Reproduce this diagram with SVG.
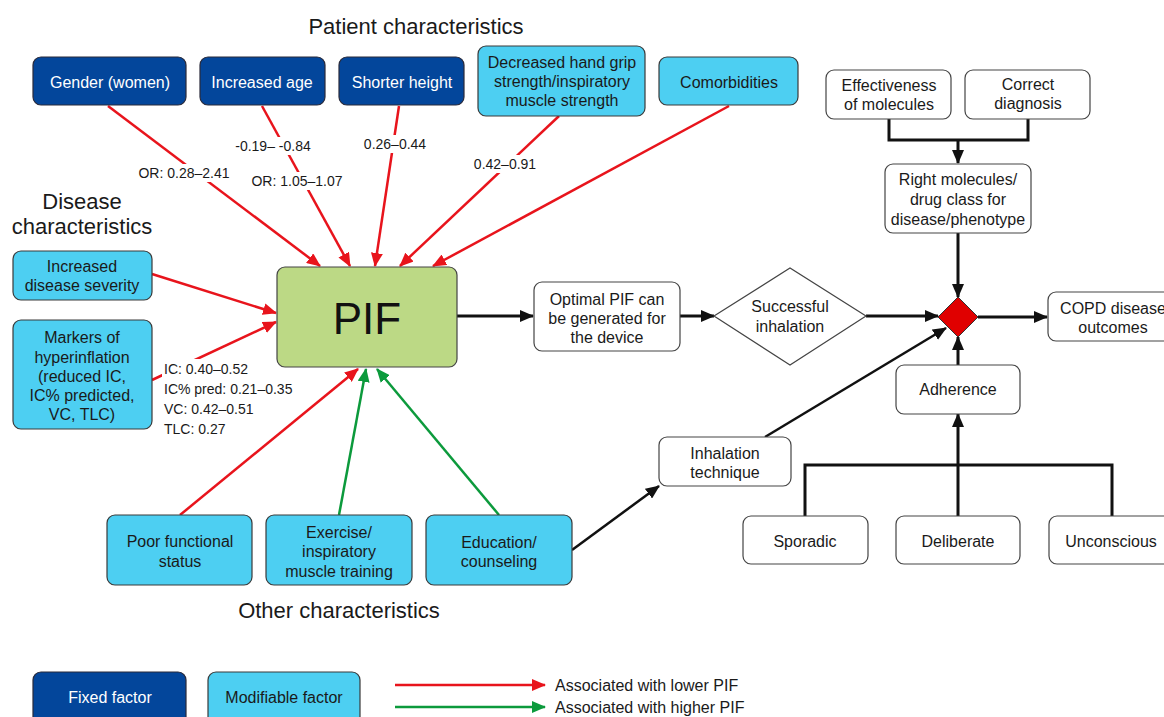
<svg xmlns="http://www.w3.org/2000/svg" width="1164" height="717" viewBox="0 0 1164 717">
<style>
text{font-family:"Liberation Sans",Arial,sans-serif;}
.t{font-size:16px;fill:#1a1a1a;text-anchor:middle;dominant-baseline:central;}
.tw{font-size:16px;fill:#fff;text-anchor:middle;dominant-baseline:central;}
.h{font-size:22px;fill:#1a1a1a;text-anchor:middle;dominant-baseline:central;}
.lab{font-size:14px;fill:#1a1a1a;dominant-baseline:central;}
.labc{font-size:14px;fill:#1a1a1a;text-anchor:middle;dominant-baseline:central;}
.fixed{fill:#03469b;stroke:#2a2a3a;stroke-width:1.2;}
.mod{fill:#4dcff2;stroke:#3a3a3a;stroke-width:1.2;}
.wb{fill:#fff;stroke:#444;stroke-width:1.2;}
.red{stroke:#e8141c;stroke-width:2.5;fill:none;marker-end:url(#ar);}
.grn{stroke:#0c9a3c;stroke-width:2.5;fill:none;marker-end:url(#ag);}
.blk{stroke:#111;stroke-width:3;fill:none;marker-end:url(#ab);}
.blkn{stroke:#111;stroke-width:3;fill:none;}
.leg{font-size:16px;fill:#1a1a1a;dominant-baseline:central;}
</style>
<defs>
<marker id="ar" markerUnits="userSpaceOnUse" markerWidth="14" markerHeight="12" refX="13" refY="6" orient="auto"><path d="M0,0 L14,6 L0,12 z" fill="#e8141c"/></marker>
<marker id="ag" markerUnits="userSpaceOnUse" markerWidth="14" markerHeight="12" refX="13" refY="6" orient="auto"><path d="M0,0 L14,6 L0,12 z" fill="#0c9a3c"/></marker>
<marker id="ab" markerUnits="userSpaceOnUse" markerWidth="14" markerHeight="12" refX="13" refY="6" orient="auto"><path d="M0,0 L14,6 L0,12 z" fill="#111"/></marker>
</defs>
<rect width="1164" height="717" fill="#fff"/>

<g id="headings">
<text class="h" x="416" y="26">Patient characteristics</text>
<text class="h" x="82" y="201">Disease</text>
<text class="h" x="82" y="226">characteristics</text>
<text class="h" x="339" y="610">Other characteristics</text>
</g>

<g id="connectors">
<line class="red" x1="108" y1="106" x2="320" y2="266"/>
<line class="red" x1="262" y1="106" x2="350" y2="266"/>
<line class="red" x1="399" y1="106" x2="375" y2="266"/>
<line class="red" x1="559" y1="116" x2="400" y2="266"/>
<line class="red" x1="729" y1="106" x2="433" y2="266"/>
<line class="red" x1="152" y1="274" x2="276" y2="313"/>
<line class="red" x1="152" y1="380" x2="276" y2="322"/>
<line class="red" x1="180" y1="515" x2="358" y2="369"/>
<line class="grn" x1="339" y1="515" x2="366" y2="369"/>
<line class="grn" x1="499" y1="515" x2="377" y2="369"/>
<line class="blk" x1="457" y1="316" x2="533" y2="316"/>
<line class="blk" x1="680" y1="316" x2="714" y2="316"/>
<line class="blk" x1="866" y1="316" x2="938" y2="316"/>
<line class="blk" x1="978" y1="317" x2="1047" y2="317"/>
<polyline class="blkn" points="889,119 889,140 1028,140 1028,119"/>
<line class="blk" x1="958" y1="140" x2="958" y2="163"/>
<line class="blk" x1="958" y1="233" x2="958" y2="297"/>
<line class="blk" x1="958" y1="365" x2="958" y2="337"/>
<polyline class="blkn" points="805,516 805,465 1112,465 1112,516"/>
<line class="blk" x1="958" y1="516" x2="958" y2="414"/>
<line class="blk" x1="765" y1="437" x2="946" y2="328" style="stroke-width:2.5"/>
<line class="blk" x1="572" y1="550" x2="659" y2="486" style="stroke-width:2.5"/>
</g>

<g id="edge-labels">
<rect x="134" y="164" width="100" height="18" fill="#fff"/>
<text class="labc" x="184" y="173">OR: 0.28–2.41</text>
<rect x="230" y="137" width="86" height="18" fill="#fff"/>
<text class="labc" x="273" y="146">-0.19– -0.84</text>
<rect x="248" y="172" width="98" height="18" fill="#fff"/>
<text class="labc" x="297" y="181">OR: 1.05–1.07</text>
<rect x="362" y="135" width="66" height="18" fill="#fff"/>
<text class="labc" x="395" y="144">0.26–0.44</text>
<rect x="472" y="155" width="66" height="18" fill="#fff"/>
<text class="labc" x="505" y="164">0.42–0.91</text>
<rect x="162" y="359" width="94" height="19" fill="#fff"/>
<text class="lab" x="164" y="369">IC: 0.40–0.52</text>
<text class="lab" x="164" y="389">IC% pred: 0.21–0.35</text>
<text class="lab" x="164" y="409">VC: 0.42–0.51</text>
<text class="lab" x="164" y="429">TLC: 0.27</text>
</g>

<g id="gender"><rect class="fixed" x="33" y="57" width="153" height="48" rx="8"/><text class="tw" x="110" y="82">Gender (women)</text></g>
<g id="age"><rect class="fixed" x="200" y="57" width="125" height="48" rx="8"/><text class="tw" x="262" y="82">Increased age</text></g>
<g id="height"><rect class="fixed" x="339" y="57" width="125" height="48" rx="8"/><text class="tw" x="402" y="82">Shorter height</text></g>
<g id="handgrip"><rect class="mod" x="478" y="46" width="167" height="70" rx="8"/><text class="t" x="562" y="62">Decreased hand grip</text><text class="t" x="562" y="81">strength/inspiratory</text><text class="t" x="562" y="100">muscle strength</text></g>
<g id="comorbidities"><rect class="mod" x="659" y="57" width="139" height="48" rx="8"/><text class="t" x="729" y="82">Comorbidities</text></g>

<g id="severity"><rect class="mod" x="13" y="251" width="139" height="49" rx="8"/><text class="t" x="82" y="266">Increased</text><text class="t" x="82" y="285">disease severity</text></g>
<g id="markers"><rect class="mod" x="13" y="320" width="139" height="109" rx="8"/><text class="t" x="82" y="337">Markers of</text><text class="t" x="82" y="357">hyperinflation</text><text class="t" x="82" y="376">(reduced IC,</text><text class="t" x="82" y="395">IC% predicted,</text><text class="t" x="82" y="414">VC, TLC)</text></g>

<g id="pif"><rect x="277" y="267" width="180" height="100" rx="8" fill="#bcd985" stroke="#444" stroke-width="1.2"/><text x="367" y="318" style="font-size:44px;fill:#111;text-anchor:middle;dominant-baseline:central">PIF</text></g>

<g id="poorfunctional"><rect class="mod" x="107" y="515" width="145" height="70" rx="8"/><text class="t" x="180" y="541">Poor functional</text><text class="t" x="180" y="561">status</text></g>
<g id="exercise"><rect class="mod" x="266" y="515" width="146" height="70" rx="8"/><text class="t" x="339" y="532">Exercise/</text><text class="t" x="339" y="551">inspiratory</text><text class="t" x="339" y="571">muscle training</text></g>
<g id="education"><rect class="mod" x="426" y="515" width="146" height="70" rx="8"/><text class="t" x="499" y="542">Education/</text><text class="t" x="499" y="561">counseling</text></g>

<g id="optimal"><rect class="wb" x="534" y="282" width="146" height="69" rx="8"/><text class="t" x="607" y="299">Optimal PIF can</text><text class="t" x="607" y="318">be generated for</text><text class="t" x="607" y="337">the device</text></g>
<g id="successful"><polygon points="714,316 790,268 866,316 790,365" fill="#fff" stroke="#444" stroke-width="1.2"/><text class="t" x="790" y="306">Successful</text><text class="t" x="790" y="326">inhalation</text></g>
<g id="junction"><polygon points="958,297 978,317 958,337 938,317" fill="#e00000" stroke="#333" stroke-width="1"/></g>
<g id="copd"><rect class="wb" x="1048" y="292" width="130" height="49" rx="8"/><text class="t" x="1113" y="308">COPD disease</text><text class="t" x="1113" y="327">outcomes</text></g>

<g id="effectiveness"><rect class="wb" x="826" y="70" width="125" height="49" rx="8"/><text class="t" x="889" y="85">Effectiveness</text><text class="t" x="889" y="104">of molecules</text></g>
<g id="diagnosis"><rect class="wb" x="965" y="70" width="125" height="49" rx="8"/><text class="t" x="1028" y="84">Correct</text><text class="t" x="1028" y="103">diagnosis</text></g>
<g id="rightmolecules"><rect class="wb" x="885" y="164" width="146" height="69" rx="8"/><text class="t" x="958" y="179">Right molecules/</text><text class="t" x="958" y="199">drug class for</text><text class="t" x="958" y="219">disease/phenotype</text></g>

<g id="inhalationtechnique"><rect class="wb" x="659" y="437" width="132" height="49" rx="8"/><text class="t" x="725" y="453">Inhalation</text><text class="t" x="725" y="472">technique</text></g>
<g id="adherence"><rect class="wb" x="896" y="365" width="124" height="49" rx="8"/><text class="t" x="958" y="389">Adherence</text></g>
<g id="sporadic"><rect class="wb" x="743" y="516" width="125" height="48" rx="8"/><text class="t" x="805" y="541">Sporadic</text></g>
<g id="deliberate"><rect class="wb" x="896" y="516" width="124" height="48" rx="8"/><text class="t" x="958" y="541">Deliberate</text></g>
<g id="unconscious"><rect class="wb" x="1049" y="516" width="125" height="48" rx="8"/><text class="t" x="1111" y="541">Unconscious</text></g>

<g id="legend">
<rect class="fixed" x="33" y="672" width="153" height="60" rx="8"/><text class="tw" x="110" y="697">Fixed factor</text>
<rect class="mod" x="208" y="672" width="152" height="60" rx="8"/><text class="t" x="284" y="697">Modifiable factor</text>
<line class="red" x1="395" y1="685" x2="545" y2="685"/>
<line class="grn" x1="395" y1="707" x2="545" y2="707"/>
<text class="leg" x="555" y="685">Associated with lower PIF</text>
<text class="leg" x="555" y="707">Associated with higher PIF</text>
</g>
</svg>
